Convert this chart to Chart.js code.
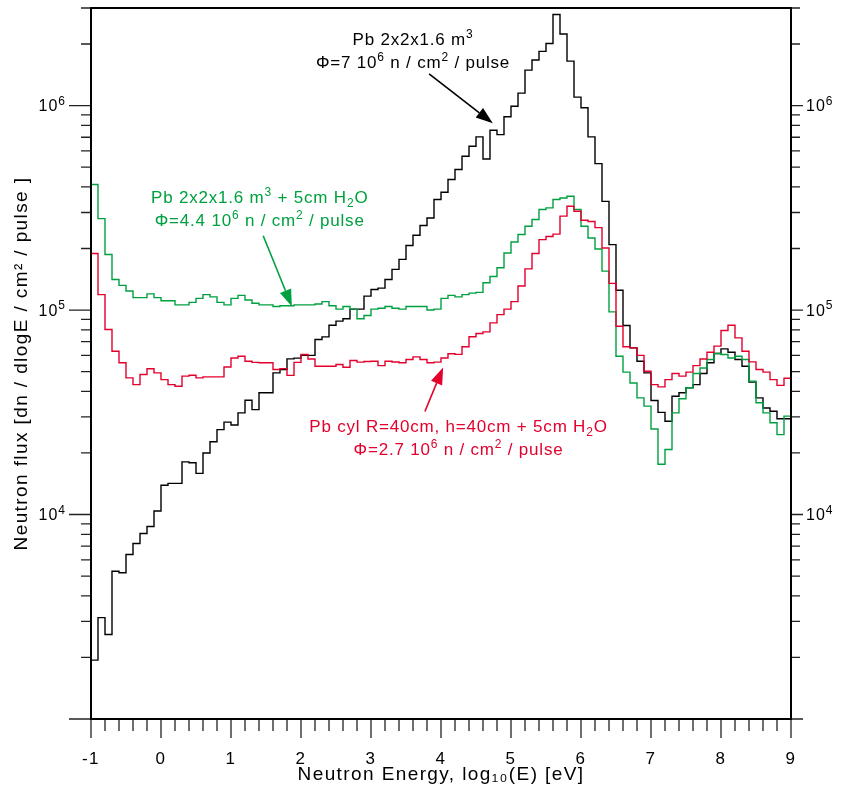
<!DOCTYPE html>
<html>
<head>
<meta charset="utf-8">
<title>Neutron flux</title>
<script src="https://cdn.jsdelivr.net/npm/chart.js@4.4.0/dist/chart.umd.min.js"></script>
<style>
  html, body { margin: 0; padding: 0; background: #fff; }
  #wrap { width: 853px; height: 796px; }
</style>
</head>
<body>
<div id="wrap"><canvas id="fluxChart" width="853" height="796"></canvas></div>
<script>
// 100 bins of 0.1 in log10(E) from -1 to 9
const binStart = -1;
const binWidth = 0.1;

// Pb 2x2x1.6 m3
const leadBlock = [
  1940, 3130, 2590, 5280, 5190, 6370, 7210, 8070, 8740, 10400,
  13900, 14200, 14200, 18100, 17900, 15900, 20000, 22700, 26000, 28300,
  27400, 31400, 36200, 32600, 39400, 39400, 49300, 51200, 57700, 58200,
  60000, 60000, 71800, 73900, 84300, 88300, 90700, 101000, 101000, 117000,
  126000, 128000, 141000, 158000, 177000, 207000, 232000, 259000, 282000, 347000,
  377000, 435000, 487000, 565000, 632000, 703000, 548000, 757000, 721000, 881000,
  993000, 1150000, 1490000, 1670000, 1840000, 2010000, 2790000, 2240000, 1650000, 1100000,
  975000, 703000, 520000, 340000, 209000, 125000, 84000, 65300, 56200, 49300,
  36100, 31600, 28600, 37900, 39400, 41700, 43200, 48900, 55200, 61300,
  64600, 62200, 57300, 53100, 44400, 37200, 33200, 32000, 29400, 29400
];

// Pb 2x2x1.6 m3 + 5cm H2O
const leadWater = [
  411000, 280000, 187000, 141000, 132000, 124000, 115000, 115000, 120000, 115000,
  111000, 111000, 106000, 106000, 109000, 114000, 119000, 116000, 109000, 106000,
  114000, 118000, 112000, 108000, 106000, 106000, 104000, 105000, 105000, 106000,
  106000, 106000, 107000, 110000, 105000, 101000, 104000, 101000, 90600, 94000,
  101000, 102000, 104000, 102000, 101000, 104000, 104000, 104000, 100000, 101000,
  114000, 118000, 116000, 119000, 121000, 122000, 136000, 146000, 161000, 190000,
  215000, 234000, 257000, 277000, 310000, 316000, 347000, 353000, 360000, 310000,
  257000, 225000, 199000, 155000, 98000, 59400, 49700, 44000, 37200, 33900,
  26200, 17600, 20800, 31400, 36800, 41700, 48900, 52100, 57300, 61300,
  60600, 58300, 59400, 57300, 44900, 35200, 31400, 28100, 24600, 30300
];

// Pb cyl R=40cm, h=40cm + 5cm H2O
const leadCyl = [
  189000, 119000, 80300, 62900, 55200, 46600, 43200, 48400, 51600, 49300,
  45700, 43200, 42400, 47500, 48000, 46600, 47100, 47100, 47100, 52700,
  58300, 59400, 56200, 55500, 55200, 55200, 51200, 51700, 47900, 55500,
  60600, 57600, 53100, 53100, 53100, 54200, 52500, 56700, 55600, 56000,
  56200, 53500, 56200, 55700, 55200, 57300, 59000, 57300, 55200, 55600,
  58300, 61100, 60700, 66100, 74000, 76800, 78200, 86500, 95000, 101000,
  110000, 131000, 159000, 189000, 221000, 229000, 235000, 288000, 322000, 304000,
  275000, 271000, 253000, 201000, 135000, 83300, 66100, 65300, 60000, 50200,
  43200, 42100, 45700, 48900, 47500, 49700, 53500, 57600, 62200, 66600,
  79400, 84300, 73100, 62900, 55800, 51200, 49700, 45700, 42800, 46400
];

const xTickValues = [-1, 0, 1, 2, 3, 4, 5, 6, 7, 8, 9];
const yTickValues = [1e4, 1e5, 1e6];
const yTickLabels = ['10^{4}', '10^{5}', '10^{6}'];

const BLACK = '#000000';
const GREEN = '#00a040';
const RED = '#e3002d';
const FONT = "'Liberation Sans', Arial, Helvetica, sans-serif";

// text blocks: anchor in data units, arrow from/to in data units
const notes = [
  { color: BLACK, at: [3.6, 2.12e6], lines: ['Pb 2x2x1.6 m^{3}', 'Φ=7 10^{6} n / cm^{2} / pulse'],
    arrow: [[3.83, 1.43e6], [4.74, 8.2e5]] },
  { color: GREEN, at: [1.41, 3.56e5], lines: ['Pb 2x2x1.6 m^{3} + 5cm H_{2}O', 'Φ=4.4 10^{6} n / cm^{2} / pulse'],
    arrow: [[1.46, 2.31e5], [1.87, 1.04e5]] },
  { color: RED, at: [4.25, 2.72e4], lines: ['Pb cyl R=40cm, h=40cm + 5cm H_{2}O', 'Φ=2.7 10^{6} n / cm^{2} / pulse'],
    arrow: [[3.77, 3.19e4], [4.03, 5.24e4]] }
];

function toSteps(values) {
  const pts = values.map((v, i) => ({ x: binStart + i * binWidth, y: v }));
  pts.push({ x: binStart + values.length * binWidth, y: values[values.length - 1] });
  return pts;
}

function histo(label, values, color) {
  return {
    label: label,
    data: toSteps(values),
    borderColor: color,
    borderWidth: 1.4,
    stepped: true,
    pointRadius: 0,
    fill: false,
    yAxisID: 'y'
  };
}

// keep the plot box where it is: no extra room for edge labels
function noPad(s) {
  s.paddingTop = 0; s.paddingBottom = 0; s.paddingLeft = 0; s.paddingRight = 0;
}

// split "m^{3}" / "H_{2}O" into pieces: k=1 superscript, k=-1 subscript
function parseRich(str) {
  const out = [];
  const re = /([\^_])\{([^}]*)\}/g;
  let last = 0, m;
  while ((m = re.exec(str))) {
    if (m.index > last) out.push({ t: str.slice(last, m.index), k: 0 });
    out.push({ t: m[2], k: m[1] === '^' ? 1 : -1 });
    last = re.lastIndex;
  }
  if (last < str.length) out.push({ t: str.slice(last), k: 0 });
  return out;
}

// draw rich text; align: 'left' | 'center' | 'right'
function drawRich(ctx, str, x, y, size, align) {
  const parts = parseRich(str);
  const small = Math.round(size * 0.72);
  const widths = parts.map(p => {
    ctx.font = (p.k ? small : size) + 'px ' + FONT;
    return ctx.measureText(p.t).width;
  });
  const total = widths.reduce((a, b) => a + b, 0);
  let cx = align === 'center' ? x - total / 2 : align === 'right' ? x - total : x;
  ctx.textAlign = 'left';
  ctx.textBaseline = 'alphabetic';
  const base = y + size * 0.36;
  parts.forEach((p, i) => {
    ctx.font = (p.k ? small : size) + 'px ' + FONT;
    const dy = p.k === 1 ? -size * 0.42 : p.k === -1 ? size * 0.22 : 0;
    ctx.fillText(p.t, cx, base + dy);
    cx += widths[i];
  });
}

// tick marks, y labels, frame
const axisTicks = {
  id: 'axisTicks',
  beforeDraw(chart) {
    chart.ctx.letterSpacing = '1.4px';
  },
  afterDraw(chart) {
    const { ctx, chartArea: a, scales: { x, y } } = chart;
    ctx.save();
    ctx.strokeStyle = '#222';
    ctx.lineWidth = 1.3;
    ctx.beginPath();
    for (let k = 0; k <= 50; k++) {
      const px = x.getPixelForValue(-1 + k * 0.2);
      const len = k % 5 === 0 ? 19 : 12;
      ctx.moveTo(px, a.bottom);
      ctx.lineTo(px, a.bottom + len);
    }
    for (let e = 3; e <= 6; e++) {
      for (let m = 1; m <= 9; m++) {
        const v = m * Math.pow(10, e);
        if (v < y.min || v > y.max * 1.001) continue;
        const py = y.getPixelForValue(v);
        ctx.moveTo(a.left - (m === 1 ? 22 : 10), py);
        ctx.lineTo(a.left, py);
        ctx.moveTo(a.right, py);
        ctx.lineTo(a.right + (m === 1 ? 12 : 9), py);
      }
    }
    ctx.stroke();
    ctx.lineWidth = 2;
    ctx.strokeStyle = '#000';
    ctx.strokeRect(a.left, a.top, a.right - a.left, a.bottom - a.top);

    ctx.fillStyle = '#000';
    ctx.letterSpacing = '1px';
    yTickValues.forEach((v, i) => {
      const py = y.getPixelForValue(v);
      drawRich(ctx, yTickLabels[i], a.left - 25, py, 16, 'right');
      drawRich(ctx, yTickLabels[i], a.right + 15, py, 16, 'left');
    });
    ctx.restore();
  }
};

// labels and arrows
const callouts = {
  id: 'callouts',
  afterDatasetsDraw(chart) {
    const { ctx, scales: { x, y } } = chart;
    ctx.save();
    ctx.letterSpacing = '0.8px';
    notes.forEach(n => {
      ctx.fillStyle = n.color;
      ctx.strokeStyle = n.color;
      const cx = x.getPixelForValue(n.at[0]);
      const cy = y.getPixelForValue(n.at[1]);
      n.lines.forEach((t, i) => drawRich(ctx, t, cx, cy + i * 23, 17, 'center'));

      const x0 = x.getPixelForValue(n.arrow[0][0]), y0 = y.getPixelForValue(n.arrow[0][1]);
      const x1 = x.getPixelForValue(n.arrow[1][0]), y1 = y.getPixelForValue(n.arrow[1][1]);
      const ang = Math.atan2(y1 - y0, x1 - x0);
      const head = 17, half = 6;
      const bx = x1 - head * Math.cos(ang), by = y1 - head * Math.sin(ang);
      ctx.lineWidth = 1.6;
      ctx.beginPath();
      ctx.moveTo(x0, y0);
      ctx.lineTo(bx, by);
      ctx.stroke();
      ctx.beginPath();
      ctx.moveTo(x1, y1);
      ctx.lineTo(bx + half * Math.sin(ang), by - half * Math.cos(ang));
      ctx.lineTo(bx - half * Math.sin(ang), by + half * Math.cos(ang));
      ctx.closePath();
      ctx.fill();
    });
    ctx.restore();
  }
};

new Chart(document.getElementById('fluxChart'), {
  type: 'line',
  data: {
    datasets: [
      histo('Pb cyl R=40cm, h=40cm + 5cm H2O', leadCyl, RED),
      histo('Pb 2x2x1.6 m3 + 5cm H2O', leadWater, GREEN),
      histo('Pb 2x2x1.6 m3', leadBlock, BLACK)
    ]
  },
  options: {
    responsive: false,
    animation: false,
    layout: { padding: { top: 8, left: 0, right: 0, bottom: 0 } },
    plugins: { legend: { display: false }, tooltip: { enabled: false } },
    elements: { line: { tension: 0 } },
    scales: {
      x: {
        type: 'linear',
        min: -1, max: 9,
        afterBuildTicks: s => { s.ticks = xTickValues.map(v => ({ value: v })); },
        afterFit: s => { s.height = 77; noPad(s); },
        grid: { display: false, drawTicks: false },
        border: { display: false },
        ticks: { color: '#000', padding: 30, font: { family: FONT, size: 17 }, maxRotation: 0 },
        title: {
          display: true, text: 'Neutron Energy, log₁₀(E) [eV]', color: '#000',
          font: { family: FONT, size: 19 }, padding: { top: 0, bottom: 10 }
        }
      },
      y: {
        type: 'logarithmic',
        position: 'left',
        min: 1000, max: 3.0e6,
        afterBuildTicks: s => { s.ticks = yTickValues.map(v => ({ value: v })); },
        afterFit: s => { s.width = 91; noPad(s); },
        grid: { display: false, drawTicks: false },
        border: { display: false },
        ticks: { display: false },
        title: {
          display: true, text: 'Neutron flux [dn / dlogE / cm² / pulse ]', color: '#000',
          font: { family: FONT, size: 19 }, padding: { top: 10, bottom: 0 }
        }
      },
      y2: {
        type: 'logarithmic',
        position: 'right',
        min: 1000, max: 3.0e6,
        afterBuildTicks: s => { s.ticks = yTickValues.map(v => ({ value: v })); },
        afterFit: s => { s.width = 62; noPad(s); },
        grid: { display: false, drawTicks: false },
        border: { display: false },
        ticks: { display: false }
      }
    }
  },
  plugins: [axisTicks, callouts]
});
</script>
</body>
</html>
